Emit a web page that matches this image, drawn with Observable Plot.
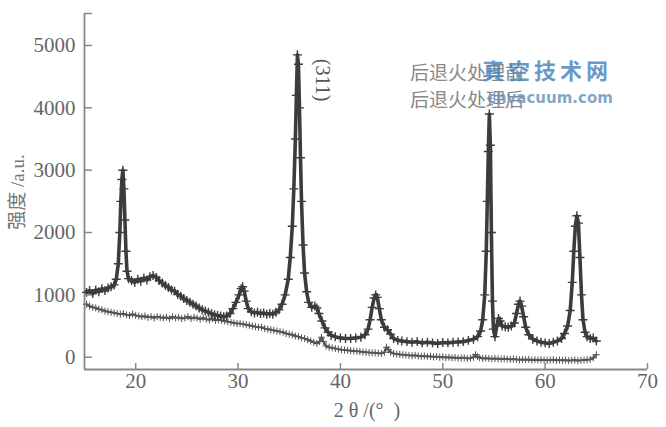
<!DOCTYPE html>
<html><head><meta charset="utf-8">
<script src="https://cdn.jsdelivr.net/npm/d3@7"></script>
<script src="https://cdn.jsdelivr.net/npm/@observablehq/plot@0.6"></script>
<style>body{margin:0;background:#fff;overflow:hidden}</style>
</head><body><div id="chart"></div>
<script>
// 2θ (degrees) and intensity (a.u.)
const afterX = [15.2,15.5,15.8,16.1,16.4,16.7,17.0,17.3,17.6,17.9,18.1,18.3,18.45,18.55,18.65,18.75,18.85,18.95,19.05,19.15,19.3,19.6,19.9,20.2,20.5,20.8,21.1,21.4,21.7,22.0,22.3,22.6,22.9,23.2,23.5,23.8,24.1,24.4,24.7,25.0,25.3,25.6,25.9,26.2,26.5,26.8,27.1,27.4,27.7,28.0,28.3,28.6,28.9,29.2,29.5,29.8,30.1,30.3,30.45,30.6,30.8,31.0,31.3,31.6,31.9,32.2,32.5,32.8,33.1,33.4,33.7,34.0,34.3,34.6,34.9,35.1,35.3,35.45,35.6,35.7,35.8,35.9,36.0,36.1,36.2,36.35,36.5,36.7,36.9,37.2,37.5,37.7,37.9,38.2,38.5,38.8,39.1,39.5,40.0,40.5,41.0,41.5,42.0,42.4,42.7,42.9,43.1,43.3,43.45,43.6,43.8,44.0,44.3,44.6,44.9,45.2,45.6,46.0,46.5,47.0,47.5,48.0,48.5,49.0,49.5,50.0,50.5,51.0,51.5,52.0,52.5,53.0,53.4,53.7,53.9,54.1,54.25,54.35,54.45,54.55,54.65,54.75,54.85,54.95,55.1,55.3,55.45,55.6,55.8,56.1,56.4,56.7,57.0,57.2,57.4,57.55,57.7,57.9,58.1,58.4,58.8,59.2,59.6,60.0,60.4,60.8,61.2,61.6,61.9,62.2,62.45,62.65,62.8,62.95,63.1,63.25,63.4,63.55,63.7,63.9,64.1,64.4,64.7,65.0];
const afterY = [1040,1070,1020,1080,1050,1100,1070,1110,1130,1160,1250,1500,2000,2500,2850,3000,2700,2200,1700,1380,1260,1230,1200,1250,1220,1270,1240,1290,1310,1280,1230,1190,1150,1120,1080,1060,1010,980,940,910,880,850,820,790,760,740,720,700,680,670,660,650,660,700,780,880,1000,1100,1130,1060,900,780,730,710,720,700,710,690,700,690,720,760,850,1000,1250,1600,2100,2700,3500,4200,4850,4700,4000,3200,2500,1800,1350,1050,880,800,820,790,700,580,470,400,350,330,310,300,300,310,320,360,450,600,800,950,1000,960,780,600,480,440,370,300,270,260,250,240,250,230,240,230,220,235,230,240,245,250,270,290,330,420,600,1000,1700,2500,3300,3900,3400,2000,900,450,330,520,620,580,500,490,480,500,550,700,850,900,820,650,480,360,290,260,240,230,220,240,260,300,380,500,750,1200,1700,2100,2270,2150,1600,1000,600,400,330,300,310,260];
const beforeX = [15.2,15.5,15.8,16.1,16.4,16.7,17.0,17.3,17.6,17.9,18.2,18.5,18.8,19.1,19.4,19.7,20.0,20.3,20.6,20.9,21.2,21.5,21.8,22.1,22.4,22.7,23.0,23.3,23.6,23.9,24.2,24.5,24.8,25.1,25.4,25.7,26.0,26.3,26.6,26.9,27.2,27.5,27.8,28.1,28.4,28.7,29.0,29.3,29.6,29.9,30.2,30.5,30.8,31.1,31.4,31.7,32.0,32.3,32.6,32.9,33.2,33.5,33.8,34.1,34.4,34.7,35.0,35.3,35.6,35.9,36.2,36.5,36.8,37.1,37.4,37.7,37.95,38.15,38.35,38.6,38.9,39.2,39.5,39.8,40.1,40.4,40.7,41.0,41.3,41.6,41.9,42.2,42.5,42.8,43.1,43.4,43.7,44.0,44.3,44.5,44.7,44.9,45.2,45.5,45.8,46.1,46.4,46.7,47.0,47.3,47.6,47.9,48.2,48.5,48.8,49.1,49.4,49.7,50.0,50.3,50.6,50.9,51.2,51.5,51.8,52.1,52.4,52.7,53.0,53.2,53.4,53.6,53.9,54.2,54.5,54.8,55.1,55.4,55.7,56.0,56.3,56.6,56.9,57.2,57.5,57.8,58.1,58.4,58.7,59.0,59.3,59.6,59.9,60.2,60.5,60.8,61.1,61.4,61.7,62.0,62.3,62.6,62.9,63.2,63.5,63.8,64.1,64.4,64.7,65.0];
const beforeY = [850,820,800,790,770,760,740,730,720,710,700,690,700,680,670,690,670,660,650,660,640,650,630,650,640,630,640,620,650,630,640,620,630,650,620,640,630,610,630,610,600,620,590,600,590,580,570,560,550,540,540,530,520,510,500,490,480,480,460,450,440,430,420,410,400,380,370,360,340,330,310,300,280,260,240,220,250,320,250,180,160,150,140,130,120,115,110,105,100,95,90,85,80,75,70,70,65,60,80,160,120,80,60,50,45,40,35,30,25,30,20,15,20,10,15,5,10,0,5,-5,0,-10,-5,-15,-10,-10,-20,-15,0,40,10,-10,-20,-15,-20,-25,-20,-25,-30,-25,-30,-35,-30,-35,-40,-35,-40,-35,-45,-40,-45,-40,-45,-50,-45,-40,-50,-45,-50,-45,-55,-50,-45,-55,-50,-45,-40,-35,-10,40];
const xTicks = [20,30,40,50,60,70];
const yTicks = [0,1000,2000,3000,4000,5000];
const seriesNames = ["后退火处理前","后退火处理后"];
const peakLabel = "(311)";
const xLabel = "2 θ /(°  )";
const yLabel = "强度 /a.u.";
const watermark = ["真空技术网","chvacuum.com"];

const after = afterX.map((x, i) => ({x, y: afterY[i]}));
const before = beforeX.map((x, i) => ({x, y: beforeY[i]}));
const yTop = 5513, yBottom = -197;

const chart = Plot.plot({
  width: 666, height: 427,
  marginLeft: 84, marginRight: 19, marginTop: 13, marginBottom: 58,
  x: {domain: [15, 70]},
  y: {domain: [yBottom, yTop]},
  style: {fontFamily: "'Liberation Serif', serif", fontSize: "21px", color: "#666", background: "#fff"},
  marks: [
    Plot.ruleX([15], {stroke: "#888", strokeWidth: 1.8}),
    Plot.ruleY([yBottom], {stroke: "#888", strokeWidth: 1.8}),
    Plot.line(before, {x: "x", y: "y", stroke: "#555", strokeWidth: 2}),
    Plot.dot(before, {x: "x", y: "y", symbol: "plus", r: 2.4, stroke: "#555", strokeWidth: 1}),
    Plot.line(after, {x: "x", y: "y", stroke: "#3c3c3c", strokeWidth: 3.6}),
    Plot.dot(after, {x: "x", y: "y", symbol: "plus", r: 3, stroke: "#3c3c3c", strokeWidth: 1.4}),
    Plot.axisX(xTicks, {tickSize: -6, tickPadding: 10, stroke: "#888", strokeWidth: 1.5, label: null, tickFormat: d => String(d)}),
    Plot.axisY([...yTicks, yTop], {tickSize: -8, tickPadding: 17, stroke: "#888", strokeWidth: 1.5, label: null, tickFormat: d => d > 5100 ? "" : String(d)})
  ]
});
document.getElementById("chart").appendChild(chart);

const svg = d3.select(chart);
svg.append("text").attr("x", 367).attr("y", 417).attr("text-anchor", "middle")
  .style("font-family", "'Liberation Serif', serif").style("font-size", "20px").attr("fill", "#666").text(xLabel);
svg.append("text").attr("transform", "translate(24,192) rotate(-90)").attr("text-anchor", "middle")
  .style("font-family", "'Liberation Serif','Noto Sans CJK SC', serif").style("font-size", "19px").attr("fill", "#777").text(yLabel);
svg.append("text").attr("transform", "translate(316,80) rotate(90)").attr("text-anchor", "middle")
  .style("font-family", "'Liberation Serif', serif").style("font-size", "20px").attr("fill", "#555").text(peakLabel);
seriesNames.forEach((s, i) => {
  svg.append("text").attr("x", 410).attr("y", 80 + i * 27).attr("text-anchor", "start")
    .style("font-family", "'Noto Sans CJK SC', sans-serif").style("font-size", "19px").attr("fill", "#888").text(s);
});
svg.append("text").attr("x", 482).attr("y", 79).attr("text-anchor", "start")
  .style("font-family", "'Noto Sans CJK SC', sans-serif").style("font-size", "22px").style("font-weight", "bold")
  .attr("fill", "#4f86bd").attr("fill-opacity", 0.85).attr("letter-spacing", "4").text(watermark[0]);
svg.append("text").attr("x", 487).attr("y", 103).attr("text-anchor", "start")
  .style("font-family", "'DejaVu Sans', sans-serif").style("font-size", "15px").style("font-weight", "bold")
  .attr("fill", "#6f95bd").attr("fill-opacity", 0.85).text(watermark[1]);
</script>
</body></html>
